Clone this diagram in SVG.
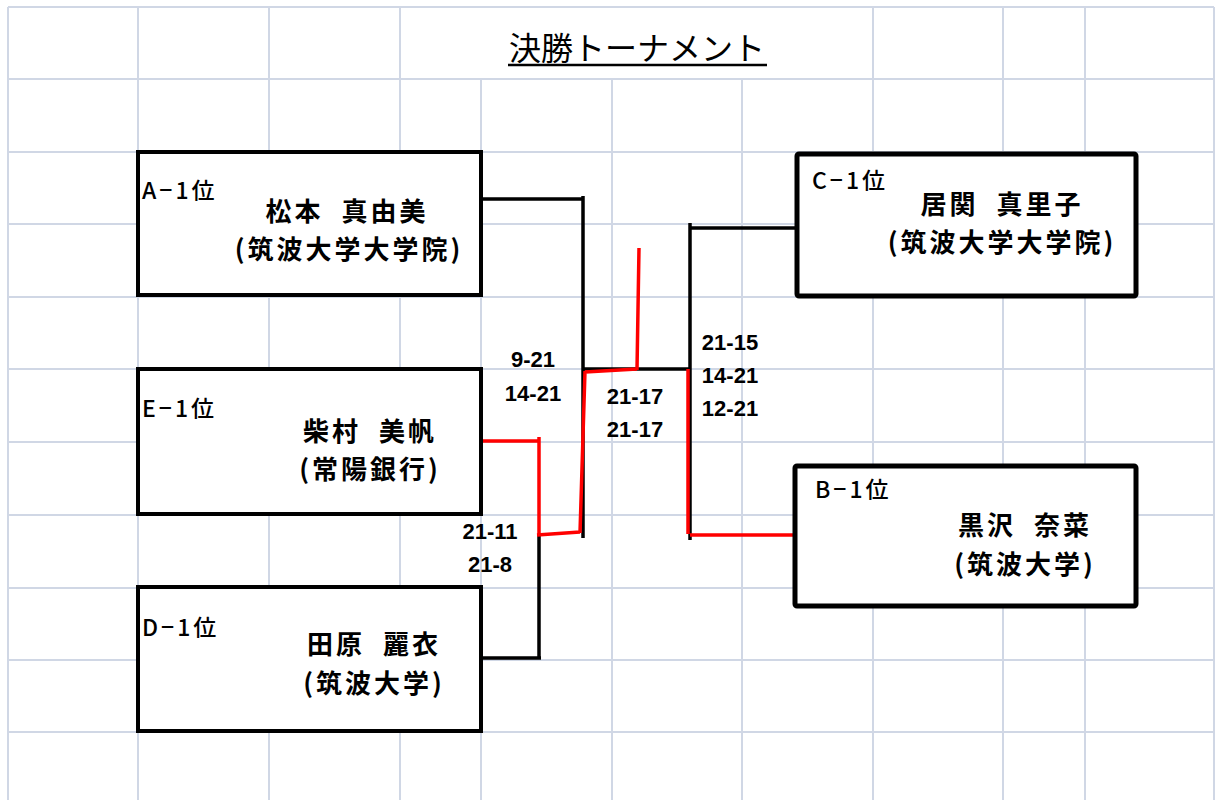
<svg xmlns="http://www.w3.org/2000/svg" width="1215" height="800" viewBox="0 0 1215 800">
<style>
.g{stroke:#d0d7e5;stroke-width:2;fill:none}
.box{fill:#fff;stroke:#000;stroke-width:4}
.boxr{fill:#fff;stroke:#000;stroke-width:5}
.lk{stroke:#000;stroke-width:3.5;fill:none}
.lr{stroke:#ff0000;stroke-width:3.5;fill:none}
.rank{font-family:"Noto Sans CJK JP",sans-serif;font-size:23px;font-weight:500;fill:#000;letter-spacing:3px}
.nm{font-family:"Noto Sans CJK JP",sans-serif;font-size:26px;font-weight:700;fill:#000;text-anchor:middle;letter-spacing:3px}
.sc{font-family:"Liberation Sans",Arial,sans-serif;font-size:22px;font-weight:700;fill:#000;text-anchor:middle}
.ttl{font-family:"Noto Sans CJK JP",sans-serif;font-size:32px;fill:#000;text-anchor:middle}
</style>
<rect width="1215" height="800" fill="#fff"/>
<g id="grid">
<path class="g" d="M8,7H1214 M8,79H1214 M8,152H1214 M8,224H1214 M8,297H1214 M8,369H1214 M8,442H1214 M8,515H1214 M8,588H1214 M8,660H1214 M8,732H1214"/>
<path class="g" d="M8,7V800 M138,7V800 M269,7V800 M400,7V800 M481,79V800 M612,79V800 M742,79V800 M873,7V800 M1003,7V800 M1085,7V800 M1214,7V800"/>
</g>
<g id="title">
<text class="ttl" x="637" y="60">決勝トーナメント</text>
<line x1="508" y1="65" x2="767" y2="65" stroke="#000" stroke-width="2.5"/>
</g>
<g id="connectors">
<path class="lk" d="M482,199H583 M583,196V538"/>
<path class="lk" d="M583,369H690 M690,223V540 M690,228H796"/>
<path class="lk" d="M539,535V658 M482,658H541"/>
<path class="lr" d="M482,441H539 M539,437V536 M537,535L580,532 M580,533L585,371 M585,372L637,369 M637,370L639,248"/>
<path class="lr" d="M688,369V534 M690,535H794"/>
</g>
<g id="nodeA">
<rect class="box" x="138" y="152" width="343" height="143"/>
<text class="rank" x="142" y="199">A−1位</text>
<text class="nm" x="347" y="221">松本&#160;&#160;真由美</text>
<text class="nm" x="349" y="259">(筑波大学大学院)</text>
</g>
<g id="nodeE">
<rect class="box" x="138" y="369" width="343" height="145"/>
<text class="rank" x="142" y="417">E−1位</text>
<text class="nm" x="370" y="441">柴村&#160;&#160;美帆</text>
<text class="nm" x="370" y="479">(常陽銀行)</text>
</g>
<g id="nodeD">
<rect class="box" x="138" y="587" width="343" height="144"/>
<text class="rank" x="142" y="636">D−1位</text>
<text class="nm" x="374" y="654">田原&#160;&#160;麗衣</text>
<text class="nm" x="374" y="693">(筑波大学)</text>
</g>
<g id="nodeC">
<rect class="boxr" x="797" y="154" width="339" height="142" rx="2"/>
<text class="rank" x="812" y="189">C−1位</text>
<text class="nm" x="1002" y="214">居関&#160;&#160;真里子</text>
<text class="nm" x="1002" y="252">(筑波大学大学院)</text>
</g>
<g id="nodeB">
<rect class="boxr" x="795" y="466" width="341" height="140" rx="2"/>
<text class="rank" x="815" y="498">B−1位</text>
<text class="nm" x="1025" y="535">黒沢&#160;&#160;奈菜</text>
<text class="nm" x="1025" y="574">(筑波大学)</text>
</g>
<g id="scores">
<text class="sc" x="533" y="367">9-21</text>
<text class="sc" x="533" y="401">14-21</text>
<text class="sc" x="635" y="404">21-17</text>
<text class="sc" x="635" y="437">21-17</text>
<text class="sc" x="730" y="350">21-15</text>
<text class="sc" x="730" y="383">14-21</text>
<text class="sc" x="730" y="416">12-21</text>
<text class="sc" x="490" y="539">21-11</text>
<text class="sc" x="490" y="572">21-8</text>
</g>
</svg>
